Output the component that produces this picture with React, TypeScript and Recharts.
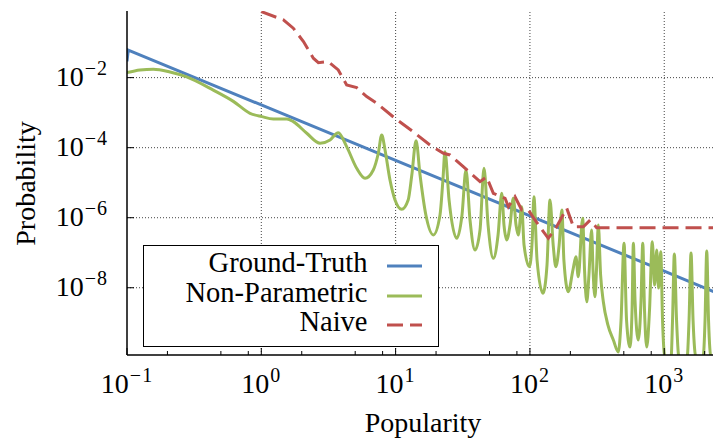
import React from "react";
import { LineChart, Line, XAxis, YAxis, ReferenceLine, Legend } from "recharts";

// axis ticks (log scales)
const popularityTicks = [0.1, 0.2, 0.5, 0.8, 1, 2, 5, 8, 10, 20, 50, 80, 100, 200, 500, 800, 1000, 2000];
const probabilityTicks = [1e-2, 1e-4, 1e-6, 1e-8];
const gridPopularity = [1, 10, 100, 1000];

// Ground-Truth
const truthX = [0.1, 0.1022, 1, 10, 100, 1000, 2400];
const truthY = [2.9e-2, 6.1e-2, 1.66e-3, 4.34e-5, 1.13e-6, 2.96e-8, 7.4e-9];

// Non-Parametric
const nonParamX = [
  0.1, 0.125, 0.157, 0.209, 0.278, 0.439, 0.619, 0.824, 1.01, 1.23,
  1.55, 1.73, 2.18, 2.74, 3.25, 3.74, 4.32, 5.13, 5.92, 6.82,
  7.43, 7.88, 8.34, 9.08, 9.9, 11.1, 12.4, 13.2, 14.2, 15.2,
  16.8, 19.1, 21.4, 22.5, 23.3, 25.0, 28.5, 31.2, 33.4, 35.8,
  39.0, 42.5, 45.5, 48.8, 53.4, 57.9, 61.7, 64.1, 67.2, 71.1,
  75.2, 78.8, 81.9, 86.9, 90.4, 99, 104, 107, 113, 125,
  134, 141, 149, 156, 165, 173, 179, 193, 209, 220,
  229, 247, 255, 265, 275, 288, 295, 305, 313, 323,
  336, 352, 381, 418, 455, 477, 502, 524, 556, 576,
  589, 606, 641, 672, 692, 713, 741, 777, 815, 847,
  879, 907, 942, 971, 1014, 1124, 1153, 1189, 1235, 1289,
  1478, 1530, 1583, 1639, 1726, 1945, 2013, 2072, 2137, 2232,
  2400,
];
const nonParamY = [
  1.39e-2, 1.66e-2, 1.74e-2, 1.45e-2, 1.05e-2, 4.4e-3, 2.1e-3, 9.6e-4, 7.69e-4, 6.61e-4,
  6.61e-4, 5.53e-4, 2.58e-4, 1.34e-4, 1.66e-4, 2.68e-4, 1.07e-4, 2.58e-5, 1.34e-5, 2.31e-5,
  6.92e-5, 2.31e-4, 8.59e-5, 1.19e-5, 3.21e-6, 1.74e-6, 3.21e-6, 1.66e-5, 1.58e-4, 1.66e-5,
  1.19e-6, 3.21e-7, 1.19e-6, 1.19e-5, 7.69e-5, 3.21e-6, 2.58e-7, 1.19e-6, 2.31e-5, 8.59e-7,
  1.19e-7, 4.45e-7, 2.58e-5, 6.18e-7, 6.92e-8, 3.21e-7, 4.98e-6, 6.18e-7, 2.31e-7, 6.18e-7,
  3.58e-6, 6.18e-7, 3.21e-7, 2.06e-6, 1.66e-7, 3.98e-8, 2.31e-7, 3.98e-6, 6.18e-8, 6.92e-9,
  4.45e-8, 3.21e-6, 1.66e-7, 3.98e-8, 1.66e-7, 1.66e-6, 6.18e-8, 7.69e-9, 3.21e-8, 7.69e-8,
  2.06e-8, 9.62e-7, 3.21e-8, 3.98e-9, 2.31e-8, 4.45e-7, 3.21e-8, 5.53e-9, 3.21e-8, 6.18e-7,
  2.31e-8, 3.98e-9, 8.59e-10, 3.21e-10, 1.46e-10, 1.19e-9, 1.86e-7, 1.19e-9, 2.02e-10, 2.31e-9,
  1.86e-7, 4.45e-9, 3.21e-10, 4.45e-9, 1.86e-7, 2.31e-9, 2.02e-10, 2.31e-9, 2.06e-7, 1.19e-8,
  1.19e-7, 9.8e-9, 1.07e-7, 1.19e-9, 1e-10, 1e-10, 1.19e-9, 9.2e-8, 1.19e-9, 1e-10,
  1e-10, 1.19e-9, 9.8e-8, 1.19e-9, 1e-10, 1e-10, 1.19e-9, 1.12e-7, 1.19e-9, 1e-10,
  1e-10,
];

// Naive
const naiveX = [
  1, 1.46, 1.73, 2.06, 2.44, 2.66, 3.15, 3.74, 4.32, 5.13,
  6.09, 7.23, 9.89, 13.5, 18.0, 22.7, 25.4, 31.9, 42.5, 47.6,
  53.4, 65.3, 69.1, 77.4, 86.9, 97.3, 109, 137, 158, 188,
  211, 250, 281, 314, 2400,
];
const naiveY = [
  0.77, 0.445, 0.258, 0.107, 0.0358, 0.0268, 0.0286, 0.0166, 0.00618, 0.00518,
  0.00287, 0.00186, 6.9e-4, 2.87e-4, 1.19e-4, 6.9e-5, 6.2e-5, 2.86e-5, 1.07e-5, 1.46e-5,
  4.98e-6, 3.58e-6, 2.06e-6, 3.98e-6, 1.66e-6, 1.66e-6, 8.6e-7, 2.58e-7, 5.5e-7, 1.86e-6,
  5.5e-7, 5.5e-7, 8.6e-7, 5.2e-7, 5.2e-7,
];

const seriesNames = ["Ground-Truth", "Non-Parametric", "Naive"];
const seriesColors = ["#4F81BD", "#9BBB59", "#C0504D"];

const FONT = "'Liberation Serif', 'Times New Roman', serif";

const zip = (xs: number[], ys: number[]) => xs.map((x, i) => ({ x, y: ys[i] }));

const exponentOf = (v: number) => Math.round(Math.log10(v));
const isMajor = (v: number) => Math.abs(Math.log10(v) - exponentOf(v)) < 1e-6;
const expLabel = (v: number) => {
  const e = exponentOf(v);
  return e < 0 ? `\u2212${-e}` : `${e}`;
};

function PowerLabel({ x, y, anchor, value }: { x: number; y: number; anchor: string; value: number }) {
  return (
    <text x={x} y={y} textAnchor={anchor} fontFamily={FONT} fontSize={28} fill="#000">
      10
      <tspan dx={1} dy={-11} fontSize={20} letterSpacing={1}>
        {expLabel(value)}
      </tspan>
    </text>
  );
}

function BottomTick(props: any) {
  const { x, y, payload } = props;
  const major = isMajor(payload.value);
  return (
    <g>
      <line x1={x} x2={x} y1={y} y2={y - (major ? 7 : 4)} stroke="#000" strokeWidth={1} />
      {major && <PowerLabel x={x} y={y + 37.5} anchor="middle" value={payload.value} />}
    </g>
  );
}

function TopTick(props: any) {
  const { x, y, payload } = props;
  const major = isMajor(payload.value);
  return <line x1={x} x2={x} y1={y} y2={y + (major ? 7 : 4)} stroke="#000" strokeWidth={1} />;
}

function LeftTick(props: any) {
  const { x, y, payload } = props;
  return (
    <g>
      <line x1={x} x2={x + 7} y1={y} y2={y} stroke="#000" strokeWidth={1} />
      <PowerLabel x={x - 19} y={y + 8.3} anchor="end" value={payload.value} />
    </g>
  );
}

function LegendBox() {
  return (
    <div
      style={{
        width: 296,
        height: 102,
        boxSizing: "border-box",
        border: "1.5px solid #000",
        background: "#fff",
        position: "relative",
        fontFamily: FONT,
        color: "#000",
      }}
    >
      {seriesNames.map((name, i) => (
        <div key={name} style={{ position: "absolute", left: 0, top: 5.2 + i * 29.3, height: 30, width: "100%" }}>
          <span style={{ position: "absolute", right: 70.5, top: -2.8, fontSize: 28.5, lineHeight: "30px", whiteSpace: "nowrap" }}>
            {name}
          </span>
          <svg style={{ position: "absolute", left: 242.5, top: 0 }} width={35} height={30}>
            <line
              x1={0}
              x2={35}
              y1={15}
              y2={15}
              stroke={seriesColors[i]}
              strokeWidth={3}
              strokeDasharray={i === 2 ? "16 7" : undefined}
            />
          </svg>
        </div>
      ))}
    </div>
  );
}

export default function App() {
  return (
    <div style={{ position: "absolute", left: 0, top: 0, background: "#fff" }}>
      <LineChart width={713} height={443} margin={{ top: 11, right: 0, bottom: 0, left: 0 }}>
        <XAxis
          xAxisId={0}
          dataKey="x"
          type="number"
          scale="log"
          domain={[0.1, 2307]}
          allowDataOverflow
          ticks={popularityTicks}
          interval={0}
          height={88}
          tickSize={0}
          tickMargin={0}
          tickLine={false}
          tick={(p: any) => <BottomTick {...p} />}
          axisLine={{ stroke: "#000", strokeWidth: 1.5 }}
          label={() => (
            <text x={423} y={432} textAnchor="middle" fontFamily={FONT} fontSize={28} fill="#000">
              Popularity
            </text>
          )}
        />
        <XAxis
          xAxisId="top"
          orientation="top"
          dataKey="x"
          type="number"
          scale="log"
          domain={[0.1, 2307]}
          allowDataOverflow
          ticks={popularityTicks}
          interval={0}
          height={0}
          tickSize={0}
          tickMargin={0}
          tickLine={false}
          tick={(p: any) => <TopTick {...p} />}
          axisLine={{ stroke: "#000", strokeWidth: 1.5 }}
        />
        <YAxis
          type="number"
          scale="log"
          domain={[1.2e-10, 0.8]}
          allowDataOverflow
          ticks={probabilityTicks}
          interval={0}
          width={127}
          tickSize={0}
          tickMargin={0}
          tickLine={false}
          tick={(p: any) => <LeftTick {...p} />}
          axisLine={{ stroke: "#000", strokeWidth: 1.5 }}
          label={() => (
            <text
              x={35}
              y={183.5}
              transform="rotate(-90, 35, 183.5)"
              textAnchor="middle"
              fontFamily={FONT}
              fontSize={28}
              fill="#000"
            >
              Probability
            </text>
          )}
        />
        {gridPopularity.map((v) => (
          <ReferenceLine key={`gx${v}`} x={v} stroke="#444" strokeWidth={1} strokeDasharray="1 2" />
        ))}
        {probabilityTicks.map((v) => (
          <ReferenceLine key={`gy${v}`} y={v} stroke="#444" strokeWidth={1} strokeDasharray="1 2" />
        ))}
        <Line
          data={zip(truthX, truthY)}
          dataKey="y"
          name={seriesNames[0]}
          type="linear"
          stroke={seriesColors[0]}
          strokeWidth={3}
          dot={false}
          isAnimationActive={false}
        />
        <Line
          data={zip(nonParamX, nonParamY)}
          dataKey="y"
          name={seriesNames[1]}
          type="monotoneX"
          stroke={seriesColors[1]}
          strokeWidth={3}
          strokeLinejoin="round"
          dot={false}
          isAnimationActive={false}
        />
        <Line
          data={zip(naiveX, naiveY)}
          dataKey="y"
          name={seriesNames[2]}
          type="linear"
          stroke={seriesColors[2]}
          strokeWidth={3}
          strokeDasharray="16 7"
          dot={false}
          isAnimationActive={false}
        />
        <Legend
          layout="horizontal"
          align="center"
          verticalAlign="middle"
          wrapperStyle={{ left: 143, top: 245, width: 296, height: 102 }}
          content={() => <LegendBox />}
        />
      </LineChart>
    </div>
  );
}
